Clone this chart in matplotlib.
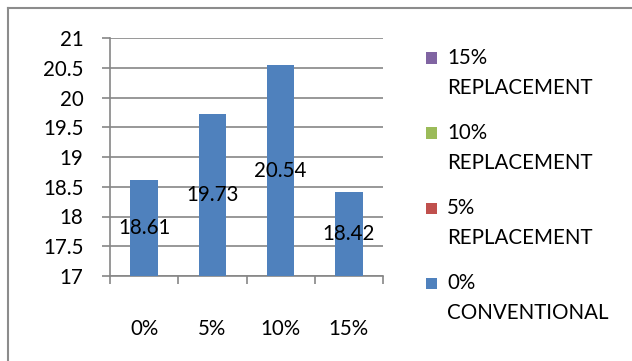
import matplotlib.pyplot as plt
from matplotlib.patches import Rectangle
from matplotlib.lines import Line2D
import numpy as np

categories = ["0%", "5%", "10%", "15%"]
values = [18.61, 19.73, 20.54, 18.42]
legend_labels = ["15%\nREPLACEMENT", "10%\nREPLACEMENT", "5%\nREPLACEMENT", "0%\nCONVENTIONAL"]
legend_colors = ["#8064A2", "#9BBB59", "#C0504D", "#4F81BD"]
yticks = [17, 17.5, 18, 18.5, 19, 19.5, 20, 20.5, 21]

W, H = 632, 361
plt.rcParams['font.family'] = ['Lato', 'DejaVu Sans']
fs = 14.8

fig = plt.figure(figsize=(W / 100, H / 100), dpi=100)
fig.patch.set_facecolor('white')

# plot area in pixels: x 110..383, y 38..276
ax = fig.add_axes([110 / W, 1 - 276 / H, (383 - 110) / W, (276 - 38) / H])

x = np.arange(len(categories))
bars = ax.bar(x, np.array(values) - 17, bottom=17, width=0.4, color="#4F81BD", zorder=3)
for xi, v in zip(x, values):
    ax.text(xi, (17 + v) / 2, f"{v:.2f}", ha='center', va='center', fontsize=fs, color='black', zorder=4)

ax.set_xlim(-0.5, len(categories) - 0.5)
ax.set_ylim(17, 21)
ax.set_yticks(yticks)
ax.set_yticklabels([f"{t:g}" for t in yticks], fontsize=fs)
ax.yaxis.grid(True, color="#868686", linewidth=1.2, zorder=0)
ax.set_axisbelow(True)

ax.set_xticks(x)
ax.set_xticklabels(categories, fontsize=fs)
ax.set_xticks(np.arange(len(categories) + 1) - 0.5, minor=True)
ax.tick_params(axis='x', which='major', length=0, pad=31)
ax.tick_params(axis='x', which='minor', length=6, color="#868686", width=1.2, direction='out')
ax.tick_params(axis='y', length=6, color="#868686", width=1.2, pad=13)

for s in ['top', 'right']:
    ax.spines[s].set_visible(False)
for s in ['left', 'bottom']:
    ax.spines[s].set_color("#868686")
    ax.spines[s].set_linewidth(1.2)

# legend: square marker aligned with the first line of each label
for i, (lab, col) in enumerate(zip(legend_labels, legend_colors)):
    yc = 58 + 75 * i
    fig.patches.append(Rectangle((426 / W, 1 - (yc + 5.5) / H), 11 / W, 11 / H,
                                 transform=fig.transFigure, facecolor=col, edgecolor='none'))
    first, second = lab.split("\n")
    fig.text(447 / W, 1 - yc / H, first, ha='left', va='center', fontsize=fs)
    fig.text(447 / W, 1 - (yc + 30) / H, second, ha='left', va='center', fontsize=fs)

# chart border
fig.lines.append(Line2D([7.5 / W, 7.5 / W], [0, 1 - 8 / H], transform=fig.transFigure,
                        color="#8c8c8c", linewidth=1.5))
fig.lines.append(Line2D([7.5 / W, 1], [1 - 8 / H, 1 - 8 / H], transform=fig.transFigure,
                        color="#8c8c8c", linewidth=1.5))

fig.savefig("out.png", dpi=100)
